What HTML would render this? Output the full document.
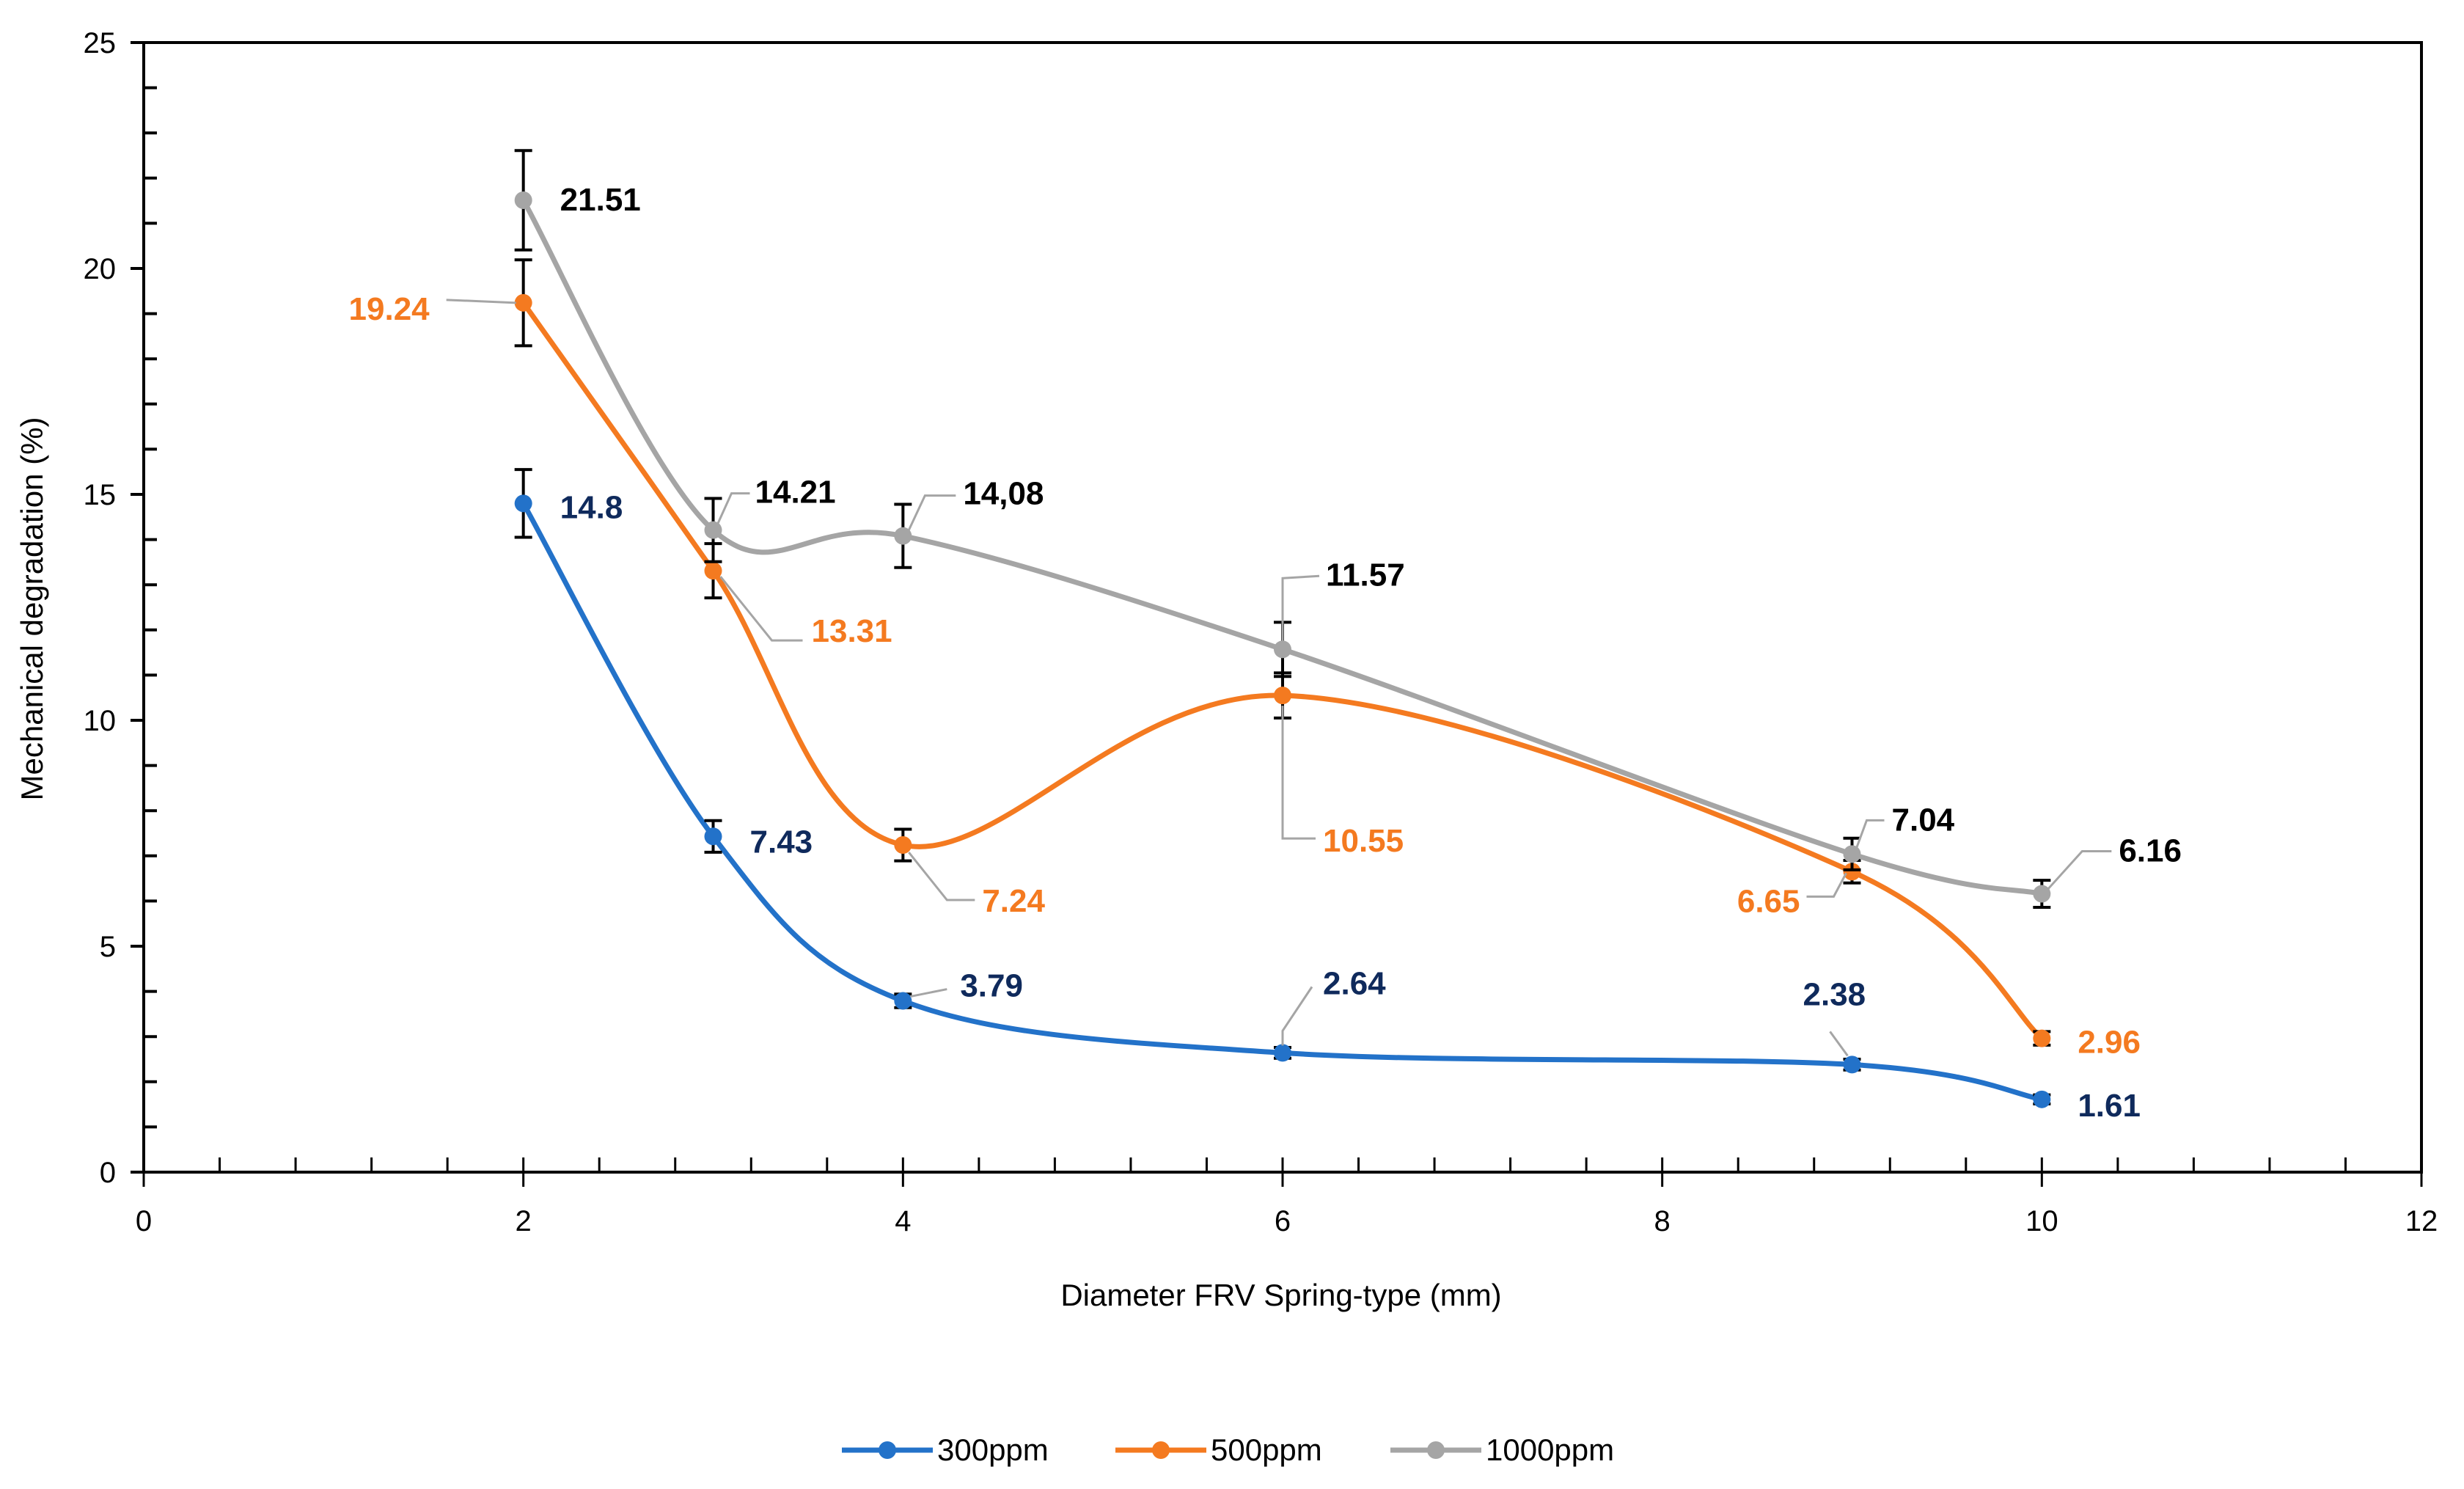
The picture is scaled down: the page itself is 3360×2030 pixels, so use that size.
<!DOCTYPE html>
<html><head><meta charset="utf-8"><style>
html,body{margin:0;padding:0;background:#fff;}
svg text{font-family:"Liberation Sans",sans-serif;}
</style></head><body>
<svg id="chart" width="3360" height="2025" viewBox="0 0 3360 2025" xmlns="http://www.w3.org/2000/svg">
<rect width="3360" height="2025" fill="#fff"/>
<g id="axes"></g><g id="series"></g><g id="labels"></g><g id="legend"></g>
</svg>
<script>
const xValues = [2, 3, 4, 6, 9, 10];
const s300 = [14.8, 7.43, 3.79, 2.64, 2.38, 1.61];
const s500 = [19.24, 13.31, 7.24, 10.55, 6.65, 2.96];
const s1000 = [21.51, 14.21, 14.08, 11.57, 7.04, 6.16];
const err300 = [0.75, 0.35, 0.15, 0.12, 0.12, 0.1];
const err500 = [0.95, 0.6, 0.35, 0.5, 0.25, 0.15];
const err1000 = [1.1, 0.7, 0.7, 0.6, 0.35, 0.3];
const lbl300 = ["14.8", "7.43", "3.79", "2.64", "2.38", "1.61"];
const lbl500 = ["19.24", "13.31", "7.24", "10.55", "6.65", "2.96"];
const lbl1000 = ["21.51", "14.21", "14,08", "11.57", "7.04", "6.16"];
const xTicks = [0, 2, 4, 6, 8, 10, 12];
const yTicks = [0, 5, 10, 15, 20, 25];

const NS = "http://www.w3.org/2000/svg";
const X0 = 196, X1 = 3302, Y0 = 1598, Y1 = 58;
const xs = v => X0 + (v / 12) * (X1 - X0);
const ys = v => Y0 - (v / 25) * (Y0 - Y1);
function mk(tag, attrs, parent, text) {
  const e = document.createElementNS(NS, tag);
  for (const k in attrs) e.setAttribute(k, attrs[k]);
  if (text !== undefined) e.textContent = text;
  parent.appendChild(e);
  return e;
}
const axes = document.getElementById('axes');
// frame
let fr = mk('path', {d:`M${X0},${Y0} L${X0},${Y1} L${X1},${Y1} L${X1},${Y0} Z`, fill:'none', stroke:'#000', 'stroke-width':4}, axes);


// y ticks
for (let v = 0; v <= 25; v++) {
  const y = ys(v);
  if (v % 5 === 0) {
    mk('line', {x1:X0-18, x2:X0, y1:y, y2:y, stroke:'#000', 'stroke-width':4}, axes);
  } else {
    mk('line', {x1:X0, x2:X0+18, y1:y, y2:y, stroke:'#000', 'stroke-width':4}, axes);
  }
}
yTicks.forEach(v => {
  const t = mk('text', {x:X0-38, y:ys(v)+14, 'text-anchor':'end', 'font-size':40, fill:'#000'}, axes, String(v));
  
  
});
// x ticks
for (let i = 0; i <= 30; i++) {
  const v = i * 0.4, x = xs(v);
  if (i % 5 === 0) mk('line', {x1:x, x2:x, y1:Y0-20, y2:Y0+20, stroke:'#000', 'stroke-width':3}, axes);
  else mk('line', {x1:x, x2:x, y1:Y0-20, y2:Y0, stroke:'#000', 'stroke-width':3}, axes);
}
xTicks.forEach(v => {
  const t = mk('text', {x:xs(v), y:Y0+80, 'text-anchor':'middle', 'font-size':40, fill:'#000'}, axes, String(v));
  
  
});
let xt = mk('text', {x:1747, y:1780, 'text-anchor':'middle', 'font-size':42, fill:'#000'}, axes, 'Diameter FRV Spring-type (mm)');


let yt = mk('text', {x:0, y:0, 'text-anchor':'middle', 'font-size':42, fill:'#000', transform:'translate(58,830) rotate(-90)'}, axes, 'Mechanical degradation (%)');



function smoothPath(pts) {
  let d = `M${pts[0][0]},${pts[0][1]}`;
  const t = 1/6;
  for (let i = 0; i < pts.length - 1; i++) {
    const p0 = pts[Math.max(i-1,0)], p1 = pts[i], p2 = pts[i+1], p3 = pts[Math.min(i+2, pts.length-1)];
    const c1 = [p1[0] + (p2[0]-p0[0])*t, p1[1] + (p2[1]-p0[1])*t];
    const c2 = [p2[0] - (p3[0]-p1[0])*t, p2[1] - (p3[1]-p1[1])*t];
    d += ` C${c1[0]},${c1[1]} ${c2[0]},${c2[1]} ${p2[0]},${p2[1]}`;
  }
  return d;
}
const seriesG = document.getElementById('series');
const labelsG = document.getElementById('labels');
const seriesList = [
  {name:'300ppm', vals:s300, errs:err300, lbls:s300.map((v,i)=>lbl300[i]), color:'#2372C9', textColor:'#0F2A5C',
   off:[[50,20,'start'],[50,22,'start'],[78,-6,'start',[[10,-6],[60,-16]]],[55,-80,'start',[[0,-10],[0,-30],[40,-90]]],[-67,-81,'start',[[-6,-12],[-30,-45]]],[49,23,'start']]},
  {name:'500ppm', vals:s500, errs:err500, lbls:lbl500, color:'#F47A20', textColor:'#F47A20',
   off:[[-128,23,'end',[[-10,0],[-105,-4]]],[134,97,'start',[[10,8],[80,95],[122,95]]],[108,91,'start',[[8,10],[60,75],[98,75]]],[55,213,'start',[[0,14],[0,195],[45,195]]],[-71,55,'end',[[-8,2],[-25,34],[-62,34]]],[49,20,'start']]},
  {name:'1000ppm', vals:s1000, errs:err1000, lbls:lbl1000, color:'#A5A5A5', textColor:'#000',
   off:[[50,14,'start'],[57,-37,'start',[[6,-8],[25,-50],[50,-50]]],[82,-43,'start',[[8,-8],[30,-55],[72,-55]]],[59,-87,'start',[[0,-10],[0,-97],[50,-100]]],[54,-32,'start',[[6,-8],[20,-46],[44,-46]]],[105,-44,'start',[[8,-6],[55,-58],[95,-58]]]]}
];
seriesList.forEach(s => {
  const pts = xValues.map((x,i) => [xs(x), ys(s.vals[i])]);
  const p = mk('path', {d:smoothPath(pts), fill:'none', stroke:s.color, 'stroke-width':7}, seriesG);
  
  
  xValues.forEach((x,i) => {
    const cx = xs(x), cy = ys(s.vals[i]);
    const eb = mk('path', {d:`M${cx},${ys(s.vals[i]-s.errs[i])} L${cx},${ys(s.vals[i]+s.errs[i])} M${cx-12},${ys(s.vals[i]-s.errs[i])} h24 M${cx-12},${ys(s.vals[i]+s.errs[i])} h24`, stroke:'#000', 'stroke-width':4, fill:'none'}, seriesG);
    
    
    const c = mk('circle', {cx:cx, cy:cy, r:12, fill:s.color}, seriesG);
    
    
    const o = s.off[i];
    if (o[3]) {
      const d = 'M' + o[3].map(q => `${cx+q[0]},${cy+q[1]}`).join(' L');
      mk('path', {d:d, fill:'none', stroke:'#A5A5A5', 'stroke-width':3}, labelsG);
    }
    const t = mk('text', {x:cx+o[0], y:cy+o[1], 'text-anchor':o[2], 'font-size':44, 'font-weight':'bold', fill:s.textColor}, labelsG, s.lbls[i]);
    
    
  });
});
const legendG = document.getElementById('legend');
const legendItems = [['300ppm','#2372C9',1148],['500ppm','#F47A20',1521],['1000ppm','#A5A5A5',1896]];
legendItems.forEach(it => {
  const g = mk('g', {}, legendG);
  
  
  mk('line', {x1:it[2], x2:it[2]+124, y1:1977, y2:1977, stroke:it[1], 'stroke-width':7}, g);
  mk('circle', {cx:it[2]+62, cy:1977, r:12, fill:it[1]}, g);
  mk('text', {x:it[2]+130, y:1991, 'font-size':42, fill:'#000'}, g, it[0]);
});
</script>
</body></html>
